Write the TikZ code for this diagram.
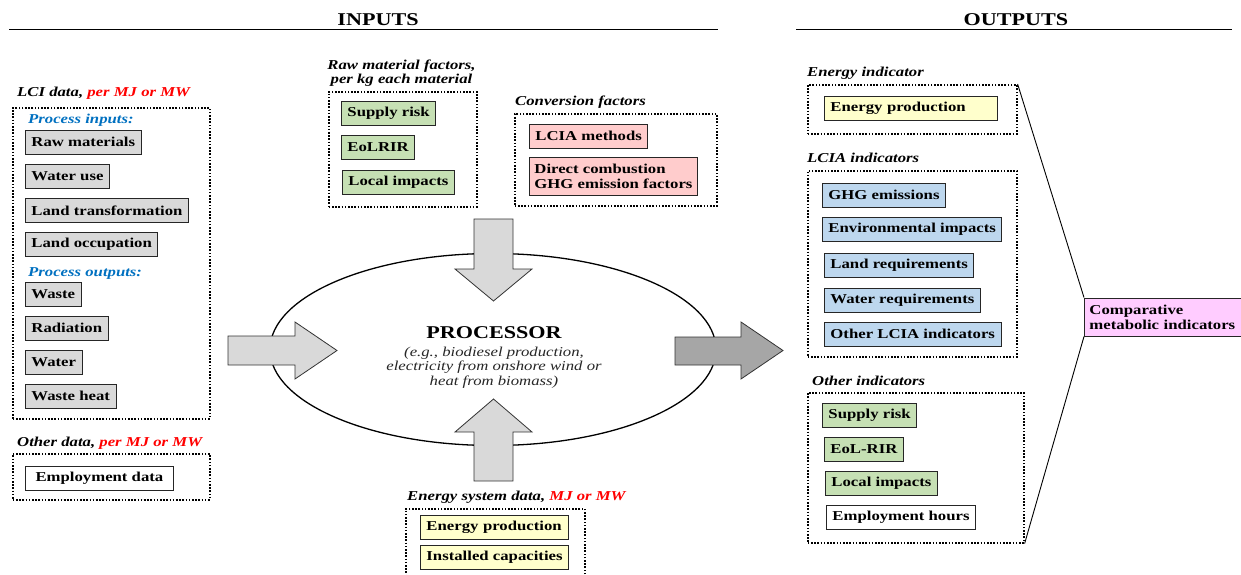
\documentclass[tikz,border=0pt]{standalone}
\usepackage{fontspec}
\setmainfont{Liberation Serif}[FakeStretch=1.23]
\usetikzlibrary{shapes.geometric}
\definecolor{BoxGrey}{HTML}{D9D9D9}
\definecolor{BoxGreen}{HTML}{C6E0B4}
\definecolor{BoxPink}{HTML}{FFCCCC}
\definecolor{BoxYellow}{HTML}{FFFFCC}
\definecolor{BoxBlue}{HTML}{BDD7EE}
\definecolor{BoxMagenta}{HTML}{FFCCFF}
\definecolor{UnitRed}{HTML}{FF0000}
\definecolor{ProcBlue}{HTML}{0070C0}
\definecolor{ArrowLight}{HTML}{D9D9D9}
\definecolor{ArrowDark}{HTML}{A6A6A6}

\tikzset{
  databox/.style={draw=black!85, line width=0.9pt, anchor=west, minimum height=24pt,
    inner xsep=6pt, inner ysep=2pt, font=\fontsize{13.6}{15}\selectfont\bfseries},
  greybox/.style={databox, fill=BoxGrey},
  greenbox/.style={databox, fill=BoxGreen},
  pinkbox/.style={databox, fill=BoxPink},
  yellowbox/.style={databox, fill=BoxYellow},
  bluebox/.style={databox, fill=BoxBlue},
  whitebox/.style={databox, fill=white},
  dotframe/.style={draw, line width=1.6pt, dash pattern=on 1.6pt off 1.6pt,
    anchor=north west, inner sep=0pt},
  grouptitle/.style={anchor=base west, inner sep=0pt,
    font=\fontsize{13.6}{13.5}\selectfont\bfseries\itshape},
  headtext/.style={anchor=base, inner sep=0pt, font=\fontsize{18}{20}\selectfont\bfseries},
  blockarrow/.style={draw=black!80, line width=0.8pt, fill=ArrowLight},
}

\begin{document}
\begin{tikzpicture}[x=1pt, y=-1pt]
  \useasboundingbox (0,0) rectangle (1241,575);

  % headings
  \node[headtext] (inhead) at (378,26) {INPUTS};
  \node[headtext] (outhead) at (1016,26) {OUTPUTS};
  \draw[line width=1pt] (9,29.5) -- (718,29.5);
  \draw[line width=1pt] (796,29.5) -- (1232,29.5);

  % LCI data
  \node[grouptitle] (lcititle) at (17,97) {LCI data, \textcolor{UnitRed}{per MJ or MW}};
  \node[dotframe, minimum width=197pt, minimum height=311pt] (lciframe) at (12,107) {};
  \node[grouptitle, text=ProcBlue] (procin) at (28,124) {Process inputs:};
  \node[greybox] (rawmat) at (25,142) {Raw materials};
  \node[greybox] (wateruse) at (25,176.5) {Water use};
  \node[greybox] (landtrans) at (25,210.5) {Land transformation};
  \node[greybox] (landocc) at (25,244.5) {Land occupation};
  \node[grouptitle, text=ProcBlue] (procout) at (28,276) {Process outputs:};
  \node[greybox] (waste) at (25,294) {Waste};
  \node[greybox] (radiation) at (25,328) {Radiation};
  \node[greybox] (water) at (25,362) {Water};
  \node[greybox] (wasteheat) at (25,396) {Waste heat};

  % other data
  \node[grouptitle] (othertitle) at (17,446) {Other data, \textcolor{UnitRed}{per MJ or MW}};
  \node[dotframe, minimum width=197pt, minimum height=46pt] (otherframe) at (12,453) {};
  \node[whitebox, minimum width=148pt] (empdata) at (25,478) {Employment data};

  % raw material factors
  \node[grouptitle, anchor=south, align=center] (rawtitle) at (401.5,86.5)
    {Raw material factors,\\per kg each material};
  \node[dotframe, minimum width=148pt, minimum height=115pt] (rawframe) at (328,91) {};
  \node[greenbox] (supplyin) at (341,113) {Supply risk};
  \node[greenbox] (eolin) at (341,147) {EoLRIR};
  \node[greenbox] (localin) at (342,182.5) {Local impacts};

  % conversion factors
  \node[grouptitle] (convtitle) at (515,106) {Conversion factors};
  \node[dotframe, minimum width=202pt, minimum height=92pt] (convframe) at (514,113) {};
  \node[pinkbox] (lciameth) at (529,136) {LCIA methods};
  \node[pinkbox, align=left, inner xsep=5pt, minimum height=38pt] (combust) at (529,176)
    {Direct combustion\\GHG emission factors};

  % processor
  \node[ellipse, draw, line width=1.3pt, minimum width=446pt, minimum height=192pt,
    inner sep=0pt] (proc) at (493,349.5) {};
  \node[anchor=base, inner sep=0pt, font=\fontsize{18}{20}\selectfont\bfseries]
    (proctitle) at (494,338) {PROCESSOR};
  \node[anchor=north, inner sep=0pt, align=center, text=black!85,
    font=\fontsize{13.6}{14.2}\selectfont\itshape] (procnote) at (494,347)
    {(e.g., biodiesel production,\\electricity from onshore wind or\\heat from biomass)};

  % arrows into and out of the processor
  \draw[blockarrow] (228,336) -- (295,336) -- (295,322) -- (337,350.5) -- (295,379)
    -- (295,365) -- (228,365) -- cycle;
  \draw[blockarrow] (474,219) -- (513,219) -- (513,269) -- (532,269) -- (493.5,301)
    -- (455,269) -- (474,269) -- cycle;
  \draw[blockarrow] (474,481) -- (474,432) -- (455,432) -- (493.5,399) -- (532,432)
    -- (513,432) -- (513,481) -- cycle;
  \draw[blockarrow, fill=ArrowDark] (675,337) -- (741,337) -- (741,322) -- (783,350.5)
    -- (741,379) -- (741,365) -- (675,365) -- cycle;

  % energy system data
  \node[grouptitle] (enstitle) at (407,500) {Energy system data, \textcolor{UnitRed}{MJ or MW}};
  \node[dotframe, minimum width=179pt, minimum height=85pt] (ensframe) at (405,508) {};
  \node[yellowbox, text width=136pt, align=left] (enprodin) at (420,527) {Energy production};
  \node[yellowbox, minimum width=148pt] (instcap) at (420,557) {Installed capacities};

  % energy indicator
  \node[grouptitle] (enindtitle) at (807,77) {Energy indicator};
  \node[dotframe, minimum width=209pt, minimum height=49pt] (enindframe) at (807,84) {};
  \node[yellowbox, text width=161pt, align=left] (enprodout) at (824,108) {Energy production};

  % LCIA indicators
  \node[grouptitle] (lciatitle) at (807,162) {LCIA indicators};
  \node[dotframe, minimum width=209pt, minimum height=186pt] (lciaframe) at (807,170) {};
  \node[bluebox] (ghg) at (822,195) {GHG emissions};
  \node[bluebox] (envimp) at (822,229.5) {Environmental impacts};
  \node[bluebox] (landreq) at (824,265) {Land requirements};
  \node[bluebox] (waterreq) at (824,300) {Water requirements};
  \node[bluebox] (otherlcia) at (824,334) {Other LCIA indicators};

  % other indicators
  \node[grouptitle] (othindtitle) at (812,385) {Other indicators};
  \node[dotframe, minimum width=216pt, minimum height=150pt] (othindframe) at (807,392) {};
  \node[greenbox] (supplyout) at (822,415) {Supply risk};
  \node[greenbox] (eolout) at (824,449) {EoL-RIR};
  \node[greenbox] (localout) at (825,483) {Local impacts};
  \node[whitebox] (emphours) at (826,517) {Employment hours};

  % comparative indicators
  \node[databox, fill=BoxMagenta, text width=147pt, align=left, inner xsep=5pt,
    minimum height=38pt] (compind) at (1084,317) {Comparative\\metabolic indicators};
  \draw[line width=0.9pt] (enindframe.north east) -- (compind.north west);
  \draw[line width=0.9pt] (compind.south west) -- (othindframe.south east);
\end{tikzpicture}
\end{document}
